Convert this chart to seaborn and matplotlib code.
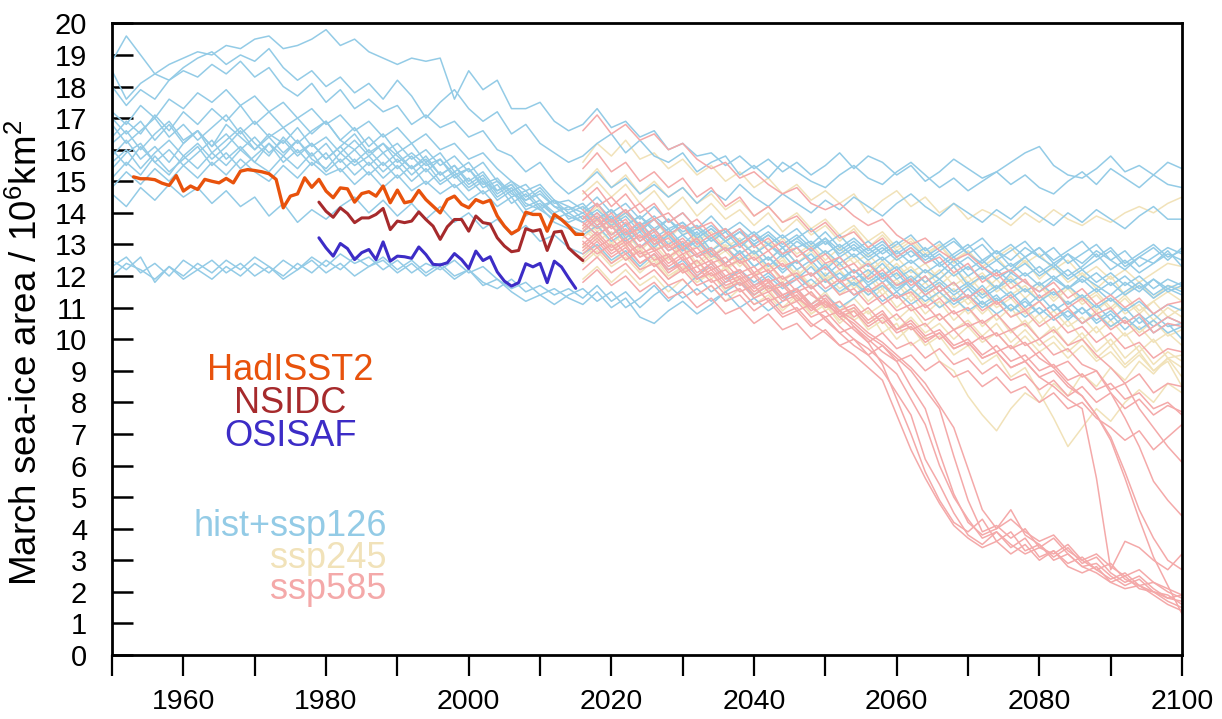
import matplotlib
matplotlib.use("Agg")
import matplotlib.pyplot as plt
import pandas as pd
import seaborn as sns

# ---------------------------------------------------------------- years
HIST_YEARS = list(range(1950, 2015, 2))
PROJ_YEARS = list(range(2016, 2101, 2))

# ---------------------------------------------------------- observations
hadisst2_years = list(range(1953, 2017))
hadisst2 = [15.14, 15.08, 15.08, 15.05, 14.94, 14.87, 15.18, 14.69, 14.85, 14.74,
            15.06, 15.00, 14.95, 15.09, 14.95, 15.32, 15.37, 15.34, 15.30, 15.24,
            15.06, 14.16, 14.53, 14.60, 15.11, 14.81, 15.06, 14.69, 14.48, 14.79,
            14.76, 14.34, 14.61, 14.67, 14.53, 14.85, 14.32, 14.72, 14.32, 14.37,
            14.71, 14.42, 14.21, 14.00, 14.42, 14.53, 14.27, 14.16, 14.42, 14.32,
            14.40, 13.90, 13.58, 13.34, 13.47, 14.02, 13.95, 13.95, 13.42, 13.95,
            13.79, 13.58, 13.32, 13.32]

nsidc_years = list(range(1979, 2017))
nsidc = [14.34, 14.05, 13.86, 14.16, 13.98, 13.69, 13.84, 13.84, 13.95, 14.14,
         13.47, 13.74, 13.69, 13.74, 14.03, 13.79, 13.58, 13.16, 13.56, 13.79,
         13.79, 13.42, 13.90, 13.69, 13.65, 13.21, 12.95, 12.77, 12.81, 13.50,
         13.42, 13.47, 12.81, 13.39, 13.42, 12.89, 12.68, 12.49]

osisaf_years = list(range(1979, 2016))
osisaf = [13.21, 12.89, 12.63, 13.03, 12.87, 12.52, 12.74, 12.84, 12.52, 13.08,
          12.47, 12.63, 12.61, 12.56, 12.92, 12.68, 12.37, 12.35, 12.42, 12.71,
          12.52, 12.24, 12.79, 12.49, 12.61, 12.13, 11.84, 11.68, 11.79, 12.39,
          12.29, 12.40, 11.79, 12.47, 12.29, 11.94, 11.61]

# ------------------------------------------- model members, historical part
hist = [
    [18.8, 19.6, 19.0, 18.4, 18.7, 18.9, 19.1, 19.0, 19.3, 19.2, 19.5, 19.6, 19.2, 19.3, 19.5, 19.8, 19.3,
     19.5, 19.1, 18.9, 18.7, 18.9, 18.8, 18.9, 17.6, 18.5, 17.9, 18.2, 17.3, 17.3, 17.5, 16.9, 16.6],
    [18.5, 17.6, 18.1, 18.4, 18.2, 18.6, 18.9, 19.1, 18.7, 19.0, 18.8, 19.2, 18.6, 18.2, 18.5, 18.0, 18.3,
     17.8, 18.1, 17.6, 18.2, 17.7, 17.0, 17.5, 17.9, 17.3, 16.9, 17.2, 16.5, 16.8, 16.2, 15.9, 15.6],
    [18.0, 17.4, 17.9, 17.6, 18.2, 18.5, 18.3, 18.7, 18.4, 18.8, 18.3, 18.6, 18.0, 17.7, 18.1, 17.5, 17.9,
     17.3, 17.6, 17.2, 17.4, 16.8, 17.1, 16.7, 16.9, 16.4, 16.6, 16.0, 15.8, 15.3, 15.6, 15.0, 14.6],
    [17.2, 16.8, 17.4, 17.0, 17.6, 17.3, 17.8, 17.5, 17.9, 17.4, 17.7, 17.2, 17.5, 17.0, 17.3, 16.8, 17.1,
     16.6, 16.9, 16.4, 16.7, 16.2, 16.5, 16.0, 16.2, 15.7, 15.9, 15.4, 15.0, 14.7, 14.9, 14.4, 14.2],
    [16.2, 16.6, 16.0, 16.5, 16.9, 16.3, 16.6, 16.1, 16.8, 16.4, 16.0, 16.5, 16.2, 16.7, 16.1, 16.4, 15.9,
     16.3, 15.8, 16.2, 15.6, 15.9, 15.5, 15.7, 15.2, 15.4, 14.9, 15.1, 14.6, 14.4, 14.7, 14.2, 14.1],
    [15.8, 16.3, 15.7, 16.1, 15.6, 16.2, 16.6, 15.9, 16.3, 16.7, 16.2, 15.8, 16.4, 15.9, 16.2, 15.7, 16.1,
     16.5, 15.9, 16.2, 15.8, 15.4, 15.8, 15.2, 15.5, 15.0, 15.3, 14.7, 14.9, 14.3, 14.1, 14.4, 13.8],
    [15.4, 15.9, 16.2, 15.6, 16.0, 15.5, 15.9, 16.3, 15.7, 16.1, 15.6, 16.2, 15.8, 16.3, 15.7, 15.4, 15.9,
     15.5, 15.8, 15.3, 15.7, 15.2, 15.6, 15.0, 15.3, 14.8, 15.1, 14.5, 14.8, 14.2, 14.4, 13.9, 13.7],
    [16.8, 16.2, 16.6, 17.0, 16.4, 16.8, 16.3, 16.7, 17.1, 16.5, 16.9, 16.4, 16.7, 16.2, 16.6, 16.9, 16.3,
     16.0, 16.4, 15.9, 16.2, 15.7, 16.0, 15.5, 15.8, 15.3, 15.6, 15.0, 14.7, 14.9, 14.4, 14.0, 14.2],
    [15.1, 15.6, 15.2, 15.8, 15.3, 15.7, 16.1, 15.5, 15.9, 15.4, 15.8, 16.2, 15.6, 16.0, 15.5, 15.9, 15.3,
     15.7, 15.2, 15.6, 15.1, 15.5, 14.9, 15.3, 14.8, 15.1, 14.6, 14.9, 14.3, 14.6, 14.1, 13.8, 14.0],
    [14.8, 15.3, 14.9, 15.4, 15.0, 15.5, 15.1, 15.6, 15.2, 15.7, 15.3, 15.0, 15.5, 15.1, 15.6, 15.2, 15.4,
     14.9, 15.3, 14.8, 15.2, 14.7, 15.0, 14.6, 14.9, 14.4, 14.7, 14.2, 14.5, 13.9, 14.2, 13.7, 13.5],
    [16.0, 15.5, 16.1, 15.6, 15.2, 15.8, 15.4, 15.9, 15.5, 16.0, 15.6, 15.3, 15.8, 15.4, 15.9, 15.3, 15.7,
     15.2, 15.6, 15.1, 15.5, 15.0, 15.4, 14.9, 15.2, 14.7, 15.0, 14.4, 14.7, 14.1, 14.3, 13.9, 13.6],
    [16.4, 16.9, 16.5, 17.1, 16.6, 17.2, 16.8, 17.3, 16.9, 17.4, 16.8, 17.2, 16.7, 17.0, 16.5, 16.9, 16.3,
     16.7, 16.1, 16.5, 15.9, 16.2, 15.6, 15.9, 15.3, 15.6, 15.0, 14.7, 15.0, 14.5, 14.8, 14.3, 14.4],
    [14.6, 14.2, 14.8, 14.4, 14.9, 14.5, 14.8, 14.3, 14.7, 14.2, 14.5, 13.9, 14.3, 13.7, 14.1, 13.8, 14.2,
     14.5, 14.0, 14.4, 13.9, 14.3, 13.8, 14.2, 13.7, 14.0, 13.5, 13.8, 13.3, 13.6, 13.1, 13.3, 12.9],
    [12.5, 12.2, 12.6, 11.8, 12.3, 12.0, 12.4, 12.1, 12.5, 12.2, 12.6, 12.3, 12.0, 12.4, 12.1, 12.5, 12.2,
     12.6, 12.3, 12.5, 12.1, 12.4, 12.0, 12.3, 11.9, 12.2, 11.8, 11.6, 11.9, 11.5, 11.7, 11.4, 11.6],
    [12.3, 12.6, 12.1, 12.4, 12.0, 12.5, 12.2, 11.9, 12.3, 12.0, 12.4, 12.1, 12.5, 12.2, 12.6, 12.3, 12.7,
     12.4, 12.6, 12.2, 12.5, 12.1, 12.4, 12.2, 12.5, 12.1, 12.3, 11.9, 11.6, 11.8, 11.4, 11.6, 11.3],
    [12.0, 12.4, 12.2, 11.9, 12.3, 11.9, 12.2, 12.5, 12.1, 12.4, 12.0, 12.3, 11.9, 12.2, 12.5, 12.1, 12.4,
     12.0, 12.3, 12.6, 12.2, 12.5, 12.1, 12.4, 12.0, 12.2, 11.7, 11.9, 11.5, 11.2, 11.4, 11.1, 11.4],
    [15.6, 16.0, 15.4, 15.9, 16.3, 15.8, 16.2, 15.7, 16.1, 16.6, 16.0, 16.4, 15.9, 16.3, 15.8, 16.2, 15.6,
     16.0, 15.5, 15.9, 15.4, 15.8, 15.3, 15.7, 15.1, 15.4, 14.8, 15.0, 14.5, 14.7, 14.2, 14.4, 14.0],
    [17.0, 16.5, 16.9, 16.3, 16.8, 16.2, 16.6, 16.1, 16.5, 16.0, 16.4, 15.9, 16.3, 15.8, 16.2, 15.7, 16.1,
     15.6, 16.0, 15.5, 15.9, 15.4, 15.7, 15.2, 15.5, 14.9, 15.2, 14.6, 14.9, 14.4, 14.6, 14.2, 13.9],
]

# ----------------------------------------------- SSP1-2.6 continuation
ssp126 = [
    [16.8, 17.3, 16.7, 16.9, 16.4, 16.6, 16.0, 16.2, 15.8, 15.9, 15.5, 15.8, 15.4, 15.7, 15.3, 15.6, 15.2,
     15.5, 15.9, 15.4, 15.8, 15.6, 15.2, 15.5, 15.0, 15.3, 15.7, 15.4, 15.1, 15.3, 15.6, 15.9, 16.1, 15.5,
     15.2, 15.1, 15.4, 15.8, 15.3, 15.5, 15.2, 15.6, 15.4],
    [15.8, 16.2, 16.5, 15.9, 16.3, 15.8, 15.6, 15.9, 15.3, 15.6, 15.8, 15.2, 15.5, 15.1, 15.6, 15.3, 15.0,
     14.8, 15.2, 15.5, 15.1, 14.9, 15.3, 15.6, 15.2, 14.8, 15.1, 14.7, 15.0, 15.3, 14.9, 15.2, 14.8, 14.6,
     15.0, 15.3, 14.9, 15.4, 15.1, 14.8, 15.2, 14.9, 14.8],
    [14.9, 15.3, 14.8, 15.1, 14.6, 14.9, 14.5, 14.8, 14.3, 14.7, 14.4, 14.9, 14.5, 14.2, 14.6, 14.3, 14.0,
     14.4, 14.1, 14.5, 14.2, 13.9, 14.3, 14.6, 14.2, 13.9, 14.3, 14.0, 13.7, 14.1, 13.8, 14.2, 13.9, 13.6,
     14.0, 13.7, 14.1, 13.8, 13.5, 13.9, 14.2, 13.8, 13.8],
    [14.0, 14.3, 13.8, 14.1, 13.6, 13.9, 13.5, 13.7, 13.3, 13.6, 13.2, 13.5, 13.1, 13.4, 13.0, 13.3, 12.9,
     13.2, 12.8, 13.1, 12.7, 13.0, 12.6, 12.9, 12.5, 12.8, 13.1, 12.7, 12.4, 12.8, 12.5, 12.9, 12.6, 12.3,
     12.7, 12.4, 12.8, 12.5, 12.2, 12.6, 12.9, 12.5, 12.9],
    [14.3, 13.8, 14.1, 13.6, 13.9, 13.4, 13.8, 13.3, 13.5, 13.1, 13.4, 12.9, 13.3, 13.0, 12.7, 13.1, 12.8,
     13.2, 12.6, 12.9, 12.5, 12.8, 13.1, 12.6, 12.9, 12.4, 12.7, 13.0, 12.5, 12.8, 12.3, 12.6, 12.9, 12.4,
     12.7, 12.2, 12.5, 12.8, 12.3, 12.6, 12.4, 12.7, 12.5],
    [14.0, 13.6, 13.9, 13.3, 13.7, 13.2, 13.5, 13.0, 13.4, 12.8, 13.1, 12.7, 13.0, 12.5, 12.9, 12.4, 12.7,
     12.2, 12.6, 12.1, 12.4, 12.0, 12.3, 11.8, 12.2, 11.9, 12.3, 11.7, 12.0, 11.6, 12.1, 11.8, 11.5, 11.9,
     11.6, 12.0, 11.7, 11.4, 11.8, 11.5, 11.9, 11.6, 11.8],
    [13.9, 13.5, 13.8, 13.2, 13.6, 13.0, 13.3, 12.8, 13.2, 12.7, 12.4, 12.8, 12.3, 12.6, 12.1, 12.5, 12.0,
     12.3, 11.8, 12.2, 11.7, 12.0, 11.5, 11.9, 11.4, 11.7, 11.2, 11.6, 11.1, 11.4, 10.9, 11.3, 10.8, 11.1,
     10.6, 11.0, 10.5, 10.8, 10.3, 10.7, 10.2, 10.5, 10.0],
    [13.8, 14.1, 13.7, 14.0, 13.6, 13.8, 13.4, 13.7, 13.2, 13.5, 13.1, 13.4, 13.0, 13.3, 12.9, 13.2, 13.5,
     13.0, 13.3, 12.8, 13.1, 12.7, 13.0, 13.3, 12.8, 13.1, 12.6, 12.9, 13.2, 12.7, 13.0, 12.6, 12.9, 12.5,
     12.8, 13.1, 12.6, 12.9, 12.4, 12.7, 13.0, 12.6, 12.8],
    [13.7, 13.3, 13.6, 13.1, 13.4, 12.9, 13.3, 12.8, 13.1, 12.6, 12.9, 12.5, 12.8, 12.3, 12.7, 12.2, 12.5,
     12.0, 12.4, 11.9, 12.2, 11.8, 12.1, 11.6, 12.0, 11.5, 11.8, 11.3, 11.7, 11.2, 11.5, 11.0, 11.4, 10.9,
     11.2, 10.8, 11.1, 10.6, 11.0, 10.5, 10.8, 10.4, 10.5],
    [13.3, 13.6, 13.1, 13.4, 12.9, 13.3, 12.8, 13.0, 12.6, 12.9, 12.4, 12.8, 12.3, 12.6, 12.2, 12.5, 12.0,
     12.4, 11.9, 12.2, 11.8, 12.1, 11.7, 12.0, 11.6, 11.9, 11.5, 11.8, 11.4, 11.7, 11.3, 11.6, 11.2, 11.5,
     11.1, 11.4, 11.0, 11.3, 10.9, 11.2, 10.8, 11.1, 10.9],
    [13.4, 13.8, 13.3, 13.6, 13.1, 13.5, 13.0, 13.3, 12.9, 13.2, 12.8, 13.1, 12.7, 13.0, 12.6, 12.9, 12.5,
     12.8, 12.4, 12.7, 12.3, 12.6, 12.2, 12.5, 12.1, 12.4, 12.0, 12.3, 11.9, 12.2, 11.8, 12.1, 11.7, 12.0,
     11.6, 11.9, 11.5, 11.8, 11.4, 11.7, 11.3, 11.6, 11.4],
    [14.1, 14.5, 14.0, 14.3, 13.8, 14.2, 13.7, 14.0, 13.5, 13.9, 13.4, 13.7, 13.3, 13.6, 13.2, 13.5, 13.0,
     13.4, 12.9, 13.2, 12.8, 13.1, 12.7, 13.0, 12.6, 12.9, 13.2, 12.7, 13.0, 12.5, 12.8, 13.1, 12.6, 12.9,
     12.4, 12.7, 13.0, 12.5, 12.8, 12.3, 12.6, 12.9, 12.7],
    [12.7, 13.0, 12.5, 12.8, 12.3, 12.7, 12.2, 12.5, 12.0, 12.4, 11.9, 12.2, 11.8, 12.1, 11.7, 12.0, 11.6,
     11.9, 11.5, 11.8, 11.4, 11.7, 11.3, 11.6, 11.2, 11.5, 11.1, 11.4, 11.0, 11.3, 10.9, 11.2, 10.8, 11.1,
     10.7, 11.0, 10.6, 10.9, 10.5, 10.8, 10.4, 10.7, 10.5],
    [11.3, 11.7, 11.2, 11.5, 11.0, 11.4, 11.7, 11.3, 11.6, 11.2, 11.5, 11.8, 11.4, 11.7, 11.3, 11.6, 11.9,
     11.5, 11.8, 11.4, 11.7, 12.0, 11.6, 11.9, 11.5, 11.8, 11.4, 11.7, 11.3, 11.6, 11.9, 11.5, 11.8, 11.4,
     11.7, 11.3, 11.6, 11.2, 11.5, 11.8, 11.4, 11.7, 11.5],
    [11.1, 11.5, 11.0, 11.3, 10.7, 10.5, 10.9, 11.2, 10.8, 11.1, 11.5, 11.0, 11.3, 10.9, 11.2, 11.6, 11.1,
     11.4, 11.0, 11.3, 11.7, 11.2, 11.5, 11.1, 11.4, 11.0, 11.3, 10.9, 11.2, 10.8, 11.1, 10.7, 11.0, 10.6,
     10.9, 10.5, 10.8, 10.4, 10.7, 10.3, 10.6, 10.2, 10.4],
    [11.6, 11.2, 11.5, 11.0, 11.3, 11.7, 11.2, 11.6, 12.0, 11.5, 11.8, 12.2, 11.7, 12.0, 11.6, 11.9, 12.3,
     11.8, 12.1, 11.7, 12.0, 12.4, 11.9, 12.2, 11.8, 12.1, 12.5, 12.0, 12.3, 11.9, 12.2, 12.6, 12.1, 12.4,
     12.0, 12.3, 12.7, 12.2, 12.5, 12.1, 12.4, 12.8, 12.3],
    [14.2, 13.8, 14.1, 13.6, 13.9, 13.5, 13.8, 13.4, 13.6, 13.2, 13.5, 13.1, 13.4, 13.0, 13.3, 12.9, 13.1,
     12.7, 13.0, 12.6, 12.9, 12.5, 12.8, 12.4, 12.7, 12.3, 12.6, 12.2, 12.5, 12.1, 12.4, 12.0, 12.3, 11.9,
     12.2, 11.8, 12.1, 11.7, 12.0, 11.6, 11.9, 11.5, 11.7],
    [13.7, 14.0, 13.6, 13.9, 13.4, 13.8, 13.3, 13.6, 13.2, 13.5, 13.1, 13.4, 13.0, 13.3, 12.9, 13.2, 12.8,
     13.1, 12.7, 13.0, 12.6, 12.9, 12.5, 12.8, 12.4, 12.7, 12.3, 12.6, 12.2, 12.5, 12.1, 12.4, 12.0, 12.3,
     11.9, 12.2, 11.8, 12.1, 11.7, 12.0, 11.6, 11.9, 11.7],
]

# ------------------------------------------------------------- SSP2-4.5
ssp245 = [
    [15.6, 16.2, 15.8, 16.3, 15.7, 15.9, 15.4, 15.7, 15.2, 15.5, 15.0, 15.3, 14.8, 15.1, 14.6, 14.9, 14.4,
     14.7, 14.3, 14.6, 14.0, 14.4, 14.7, 14.2, 14.5, 14.0, 14.3, 13.8, 14.1, 13.9, 13.6, 14.0, 13.7, 14.1,
     13.8, 13.6, 13.9, 13.7, 14.0, 14.2, 14.0, 14.3, 14.5],
    [14.9, 15.4, 14.8, 15.2, 14.6, 15.0, 14.5, 14.8, 14.3, 14.6, 14.1, 14.4, 13.9, 14.2, 13.7, 14.0, 13.5,
     13.8, 13.3, 13.6, 13.1, 13.4, 12.9, 13.2, 12.7, 13.0, 12.5, 12.8, 12.3, 12.6, 12.9, 12.4, 12.7, 12.2,
     12.5, 12.0, 12.3, 11.9, 12.2, 11.8, 12.1, 12.4, 12.3],
    [13.8, 14.2, 13.6, 14.0, 13.5, 13.8, 13.2, 13.6, 13.1, 13.4, 12.9, 13.2, 12.7, 13.1, 12.6, 12.9, 12.4,
     12.8, 12.3, 12.6, 12.1, 12.5, 12.0, 12.3, 11.8, 12.2, 11.7, 12.0, 11.5, 11.9, 11.4, 11.7, 11.2, 11.6,
     11.1, 11.4, 10.9, 11.3, 10.8, 11.1, 10.6, 11.0, 10.7],
    [13.5, 13.1, 13.4, 12.9, 13.3, 12.8, 13.1, 12.6, 13.0, 12.5, 12.8, 12.3, 12.7, 12.2, 12.5, 12.0, 12.4,
     11.9, 12.2, 11.7, 12.1, 11.6, 11.9, 11.4, 11.8, 11.3, 11.6, 11.1, 11.5, 11.0, 11.3, 10.8, 11.2, 10.7,
     11.0, 10.5, 10.9, 10.4, 10.7, 10.2, 10.6, 10.1, 10.3],
    [13.2, 13.6, 13.0, 13.4, 12.8, 13.2, 12.6, 13.0, 12.4, 12.8, 12.2, 12.6, 12.0, 12.4, 11.8, 12.2, 11.6,
     12.0, 11.4, 11.8, 11.2, 11.6, 11.0, 11.4, 10.8, 11.2, 10.6, 11.0, 10.4, 10.8, 10.2, 10.6, 10.0, 10.4,
     9.8, 10.2, 9.6, 10.0, 9.4, 9.8, 9.2, 9.6, 9.3],
    [13.0, 12.6, 13.1, 12.5, 12.9, 12.3, 12.7, 12.1, 12.5, 11.9, 12.3, 11.7, 12.0, 11.5, 11.8, 11.2, 11.5,
     10.9, 11.2, 10.6, 10.9, 10.2, 10.5, 9.8, 10.1, 9.3, 9.0, 8.2, 7.6, 7.1, 7.8, 8.3, 8.0, 8.6,
     8.2, 8.9, 8.5, 9.1, 8.7, 9.3, 8.9, 9.4, 9.1],
    [12.6, 13.0, 12.4, 12.8, 12.2, 12.6, 12.0, 12.3, 11.8, 12.1, 11.5, 11.9, 11.3, 11.6, 11.0, 11.4, 10.8,
     11.1, 10.5, 10.9, 10.3, 10.6, 10.0, 10.4, 9.8, 10.1, 9.5, 9.8, 9.2, 9.5, 8.8, 9.1, 8.3, 7.5,
     6.6, 7.2, 7.8, 7.4, 8.0, 8.4, 8.0, 8.6, 8.3],
    [14.2, 13.7, 14.1, 13.6, 13.9, 13.4, 13.8, 13.3, 13.6, 13.1, 13.5, 13.0, 13.3, 12.8, 13.2, 12.7, 13.0,
     12.5, 12.9, 12.4, 12.7, 12.2, 12.6, 12.1, 12.4, 11.9, 12.3, 11.8, 12.1, 11.6, 12.0, 11.5, 11.8, 11.3,
     11.7, 11.2, 11.5, 11.0, 11.4, 10.9, 11.2, 10.7, 11.0],
    [12.9, 13.3, 12.8, 13.2, 12.6, 13.0, 12.5, 12.9, 12.3, 12.7, 12.2, 12.5, 12.0, 12.4, 11.9, 12.2, 11.7,
     12.1, 11.6, 11.9, 11.4, 11.8, 11.3, 11.6, 11.1, 11.5, 11.0, 11.3, 10.8, 11.2, 10.7, 11.0, 10.5, 10.9,
     10.4, 10.7, 10.2, 10.6, 10.1, 10.4, 9.9, 10.2, 9.8],
    [13.6, 13.2, 13.7, 13.1, 13.5, 13.0, 13.4, 12.9, 13.3, 12.8, 13.2, 12.7, 13.0, 12.5, 12.9, 12.4, 12.8,
     12.3, 12.6, 12.1, 12.5, 12.0, 12.4, 11.9, 12.2, 11.7, 12.1, 11.6, 12.0, 11.5, 11.8, 11.3, 11.7, 11.2,
     11.6, 11.1, 11.4, 10.9, 11.3, 10.8, 11.2, 11.5, 11.2],
    [12.4, 12.8, 12.3, 12.6, 12.1, 12.5, 11.9, 12.3, 11.8, 12.1, 11.6, 12.0, 11.4, 11.8, 11.3, 11.6, 11.1,
     11.5, 10.9, 11.3, 10.8, 11.1, 10.6, 11.0, 10.4, 10.8, 10.3, 10.6, 10.1, 10.5, 9.9, 10.3, 9.8, 10.1,
     9.6, 10.0, 9.4, 9.8, 9.2, 9.6, 9.0, 9.4, 8.8],
    [14.6, 15.0, 14.5, 14.9, 14.3, 14.7, 14.1, 14.5, 13.9, 14.3, 13.8, 14.1, 13.6, 14.0, 13.4, 13.8, 13.3,
     13.6, 13.1, 13.5, 12.9, 13.3, 12.8, 13.1, 12.6, 13.0, 12.4, 12.8, 12.3, 12.6, 12.1, 12.5, 11.9, 12.3,
     11.8, 12.1, 11.6, 12.0, 11.4, 11.8, 11.3, 11.7, 11.6],
    [13.9, 13.4, 13.8, 13.2, 13.6, 13.0, 13.4, 12.8, 13.2, 12.6, 13.0, 12.4, 12.8, 12.2, 12.6, 12.0, 12.4,
     11.8, 12.2, 11.6, 12.0, 11.4, 11.8, 11.2, 11.6, 11.0, 11.4, 10.8, 11.2, 10.6, 11.0, 10.4, 10.8, 10.2,
     10.6, 10.0, 10.4, 9.8, 10.2, 9.6, 10.0, 9.4, 9.5],
    [11.9, 12.3, 11.8, 12.2, 11.7, 12.0, 11.5, 11.9, 11.4, 11.7, 11.2, 11.6, 11.1, 11.4, 10.9, 11.3, 10.8,
     11.1, 10.6, 11.0, 10.5, 10.8, 10.3, 10.7, 10.2, 10.5, 10.0, 10.4, 9.9, 10.2, 9.7, 10.1, 9.6, 9.9,
     9.4, 9.8, 9.3, 9.6, 9.1, 9.5, 9.0, 9.3, 8.5],
]

# ------------------------------------------------------------- SSP5-8.5
ssp585 = [
    [16.6, 17.1, 16.5, 16.8, 16.3, 16.5, 16.0, 16.2, 15.7, 15.4, 15.6, 15.1, 15.3, 14.9, 14.6, 14.8, 14.3,
     14.1, 14.3, 13.9, 13.6, 13.8, 13.3, 13.0, 13.2, 12.8, 12.5, 12.7, 12.3, 12.0, 12.2, 11.8, 11.5, 11.8,
     11.3, 11.6, 11.1, 11.4, 11.0, 11.3, 10.8, 11.1, 11.2],
    [15.4, 15.9, 15.3, 15.6, 15.0, 15.3, 14.8, 15.1, 14.5, 14.8, 14.2, 14.5, 13.9, 14.2, 13.7, 13.9, 13.4,
     13.7, 13.2, 13.4, 12.9, 13.2, 12.6, 12.9, 12.4, 12.6, 12.1, 12.4, 11.8, 12.1, 11.6, 11.9, 11.3, 11.6,
     11.0, 11.3, 10.8, 11.0, 10.5, 10.8, 10.2, 10.5, 10.4],
    [13.4, 13.8, 13.2, 13.5, 12.9, 13.2, 12.6, 12.9, 12.3, 12.5, 12.0, 12.2, 11.7, 11.9, 11.4, 11.6, 11.0,
     11.2, 10.7, 10.3, 9.9, 9.2, 8.1, 7.0, 5.8, 4.9, 4.2, 3.9, 4.3, 3.6, 3.9, 3.3, 3.5, 3.0,
     3.2, 2.8, 2.6, 2.3, 2.5, 2.1, 2.0, 1.8, 1.7],
    [13.1, 12.7, 13.0, 12.5, 12.8, 12.3, 12.6, 12.1, 12.3, 11.8, 12.0, 11.5, 11.7, 11.2, 11.4, 10.9, 11.1,
     10.6, 10.2, 9.8, 9.5, 9.0, 8.3, 7.6, 6.2, 5.4, 4.5, 3.8, 3.5, 3.9, 3.4, 3.7, 3.1, 3.3,
     2.9, 3.1, 2.7, 2.4, 2.6, 2.2, 2.0, 1.9, 1.6],
    [13.7, 13.3, 13.6, 13.0, 13.3, 12.8, 13.0, 12.5, 12.7, 12.2, 12.4, 11.9, 12.1, 11.6, 11.8, 11.3, 11.0,
     10.7, 10.9, 10.4, 10.0, 9.6, 9.3, 8.5, 7.8, 6.4, 5.1, 4.2, 3.8, 4.0, 4.6, 3.8, 3.5, 3.1,
     3.4, 2.9, 3.1, 2.6, 2.3, 2.5, 2.1, 1.8, 1.9],
    [12.8, 13.2, 12.7, 13.0, 12.4, 12.7, 12.1, 12.4, 11.9, 12.1, 11.6, 11.8, 11.3, 11.5, 11.0, 11.2, 10.7,
     10.9, 10.4, 10.0, 9.7, 9.3, 8.9, 8.1, 7.3, 6.0, 5.0, 4.3, 3.7, 3.9, 3.5, 3.2, 3.4, 3.7,
     3.2, 2.8, 2.9, 2.5, 2.2, 2.4, 2.0, 1.7, 1.5],
    [13.5, 13.9, 13.3, 13.7, 13.1, 13.4, 12.8, 13.1, 12.6, 12.8, 12.3, 12.5, 12.0, 12.2, 11.7, 11.9, 11.4,
     11.1, 10.8, 10.5, 10.1, 9.8, 9.4, 9.0, 8.4, 7.8, 6.3, 4.9, 3.9, 4.1, 3.7, 4.0, 3.4, 3.2,
     3.5, 3.0, 2.7, 2.9, 2.4, 2.2, 2.3, 2.0, 1.8],
    [12.5, 12.9, 12.4, 12.7, 12.2, 12.4, 11.9, 12.2, 11.7, 11.9, 11.4, 11.6, 11.1, 11.3, 10.8, 11.0, 10.5,
     10.2, 9.8, 9.5, 9.1, 8.7, 7.6, 6.5, 5.6, 4.8, 4.1, 3.7, 3.4, 3.6, 3.2, 3.5, 3.0, 3.3,
     2.8, 2.6, 2.8, 2.3, 2.1, 2.2, 1.9, 1.6, 1.4],
    [13.9, 13.5, 13.8, 13.3, 13.5, 13.0, 13.2, 12.7, 12.9, 12.4, 12.6, 12.1, 12.3, 11.8, 12.0, 11.5, 11.7,
     11.2, 10.9, 10.6, 10.2, 9.9, 9.5, 9.1, 8.6, 7.9, 7.2, 5.9, 4.6, 4.0, 4.3, 3.9, 3.6, 3.8,
     3.3, 3.0, 3.2, 2.8, 2.5, 2.7, 2.3, 2.1, 1.9],
    [13.6, 14.0, 13.5, 13.8, 13.2, 13.5, 12.9, 13.2, 12.7, 12.9, 12.4, 12.7, 12.1, 12.4, 11.9, 12.1, 11.6,
     11.9, 11.4, 11.6, 11.1, 11.4, 10.9, 11.1, 10.6, 10.8, 10.3, 10.5, 10.0, 10.2, 9.7, 9.9, 9.4, 9.1,
     8.6, 8.2, 7.6, 6.8, 5.6, 4.3, 3.1, 2.2, 1.3],
    [12.9, 13.3, 12.8, 13.1, 12.6, 12.8, 12.3, 12.6, 12.0, 12.3, 11.8, 12.0, 11.5, 11.8, 11.3, 11.5, 11.0,
     11.3, 10.8, 11.0, 10.5, 10.8, 10.3, 10.5, 10.0, 10.2, 9.7, 9.9, 9.4, 9.6, 9.1, 9.3, 8.8, 8.5,
     8.1, 7.8, 5.6, 2.7, 3.6, 3.4, 3.0, 2.7, 3.2],
    [14.1, 13.6, 14.0, 13.4, 13.7, 13.1, 13.4, 12.9, 13.2, 12.6, 12.9, 12.4, 12.6, 12.1, 12.4, 11.9, 12.1,
     11.6, 11.9, 11.4, 11.6, 11.1, 11.4, 10.9, 11.1, 10.6, 10.9, 10.4, 10.6, 10.1, 10.3, 9.8, 10.0, 9.5,
     9.7, 9.2, 9.0, 8.3, 7.5, 6.6, 5.5, 4.9, 4.4],
    [13.3, 12.9, 13.2, 12.7, 13.0, 12.5, 12.7, 12.2, 12.5, 12.0, 12.2, 11.7, 12.0, 11.5, 11.7, 11.2, 11.5,
     11.0, 11.2, 10.7, 11.0, 10.5, 10.8, 10.3, 10.5, 10.0, 10.3, 9.8, 10.1, 9.6, 9.8, 9.3, 9.6, 9.1,
     9.3, 8.8, 9.0, 8.4, 8.6, 7.8, 7.2, 6.6, 6.1],
    [12.7, 13.1, 12.6, 12.9, 12.4, 12.7, 12.2, 12.4, 11.9, 12.2, 11.7, 11.9, 11.4, 11.7, 11.2, 11.4, 10.9,
     11.2, 10.7, 10.9, 10.4, 10.7, 10.2, 10.4, 9.9, 10.2, 9.7, 9.9, 9.4, 9.6, 9.1, 9.3, 8.8, 9.0,
     8.5, 8.2, 7.6, 6.9, 5.8, 4.6, 3.7, 3.0, 2.7],
    [14.4, 14.8, 14.2, 14.6, 14.0, 14.3, 13.7, 14.0, 13.5, 13.7, 13.2, 13.5, 12.9, 13.2, 12.7, 12.9, 12.4,
     12.7, 12.2, 12.4, 11.9, 12.2, 11.7, 11.9, 11.4, 11.7, 11.2, 11.4, 10.9, 11.2, 10.7, 10.9, 10.4, 10.7,
     10.2, 10.4, 9.9, 10.2, 9.7, 9.9, 9.4, 9.7, 9.6],
    [13.0, 13.4, 12.9, 13.2, 12.7, 12.9, 12.4, 12.7, 12.1, 12.4, 11.9, 12.1, 11.6, 11.9, 11.4, 11.6, 11.1,
     11.4, 10.9, 11.1, 10.6, 10.9, 10.3, 10.6, 10.1, 10.3, 9.8, 10.0, 9.5, 9.8, 9.3, 9.5, 9.0, 9.2,
     8.7, 8.9, 8.4, 8.6, 8.1, 8.3, 7.8, 8.0, 7.6],
    [14.7, 14.2, 14.5, 14.0, 14.3, 13.8, 14.0, 13.5, 13.8, 13.3, 13.5, 13.0, 13.3, 12.8, 13.1, 12.6, 12.9,
     12.4, 12.6, 12.1, 12.4, 11.9, 12.2, 11.7, 12.0, 11.5, 11.8, 11.3, 11.6, 11.1, 11.4, 10.9, 11.2, 10.7,
     11.0, 10.5, 10.8, 10.3, 10.6, 10.1, 10.4, 10.7, 10.5],
    [12.2, 12.6, 12.1, 12.4, 11.9, 12.2, 11.7, 11.9, 11.4, 11.7, 11.2, 11.4, 10.9, 11.2, 10.7, 10.9, 10.4,
     10.7, 10.2, 10.4, 9.9, 10.2, 9.7, 9.9, 9.4, 9.7, 9.2, 9.4, 8.9, 9.2, 8.7, 8.9, 8.4, 8.7,
     8.2, 8.5, 8.0, 8.3, 7.8, 8.1, 7.6, 7.9, 7.7],
    [13.8, 14.3, 13.7, 14.1, 13.5, 13.8, 13.3, 13.6, 13.0, 13.3, 12.8, 13.0, 12.5, 12.8, 12.3, 12.5, 12.0,
     12.3, 11.8, 12.0, 11.5, 11.8, 11.3, 11.5, 11.0, 11.3, 10.8, 11.0, 10.5, 10.8, 10.3, 10.5, 10.0, 10.3,
     9.8, 10.0, 9.5, 9.1, 8.6, 8.9, 8.3, 8.6, 8.5],
    [11.8, 12.2, 11.7, 12.0, 11.5, 11.8, 11.3, 11.5, 11.0, 11.3, 10.8, 11.0, 10.5, 10.8, 10.3, 10.5, 10.0,
     10.3, 9.8, 10.0, 9.5, 9.8, 9.3, 9.5, 9.0, 9.3, 8.8, 9.0, 8.5, 8.8, 8.3, 8.5, 8.0, 8.3,
     7.8, 8.0, 7.5, 7.2, 6.8, 7.1, 6.5, 6.9, 7.3],
]

# ----------------------------------------------------------------- colours
C_126 = "#93CBE6"
C_245 = "#F1E2B9"
C_585 = "#F4A9A9"
C_HAD = "#E8520C"
C_NSIDC = "#A62A2C"
C_OSI = "#3C2CC6"


def members_frame(series_list, years, label):
    parts = []
    for i, vals in enumerate(series_list):
        parts.append(pd.DataFrame({"year": years, "area": vals,
                                   "scenario": label, "member": f"{label}-{i:02d}"}))
    return pd.concat(parts, ignore_index=True)


df_126 = members_frame([h + f for h, f in zip(hist, ssp126)],
                       HIST_YEARS + PROJ_YEARS, "hist+ssp126")
df_245 = members_frame(ssp245, PROJ_YEARS, "ssp245")
df_585 = members_frame(ssp585, PROJ_YEARS, "ssp585")

# ------------------------------------------------------------------- style
sns.set_style("ticks")
plt.rcParams["font.family"] = ["Liberation Sans", "DejaVu Sans"]
plt.rcParams["mathtext.fontset"] = "custom"
plt.rcParams["mathtext.rm"] = "Liberation Sans"
plt.rcParams["mathtext.it"] = "Liberation Sans:italic"
plt.rcParams["mathtext.bf"] = "Liberation Sans:bold"
plt.rcParams["text.color"] = "black"
plt.rcParams["axes.labelcolor"] = "black"

fig, ax = plt.subplots(figsize=(12.22, 7.19), dpi=100)
fig.subplots_adjust(left=0.0917, right=0.9673, bottom=0.089, top=0.9675)

# model ensembles
for frame, colour in [(df_245, C_245), (df_126, C_126), (df_585, C_585)]:
    sns.lineplot(data=frame, x="year", y="area", units="member", estimator=None,
                 color=colour, linewidth=1.1, legend=False, ax=ax)

# observations
sns.lineplot(x=hadisst2_years, y=hadisst2, color=C_HAD, linewidth=2.4, ax=ax)
sns.lineplot(x=nsidc_years, y=nsidc, color=C_NSIDC, linewidth=2.2, ax=ax)
sns.lineplot(x=osisaf_years, y=osisaf, color=C_OSI, linewidth=2.2, ax=ax)

# in-plot labels
lab_kw = dict(fontsize=26, va="center")
ax.text(1975.0, 9.0, "HadISST2", color=C_HAD, ha="center", **lab_kw)
ax.text(1975.0, 7.97, "NSIDC", color=C_NSIDC, ha="center", **lab_kw)
ax.text(1975.0, 6.92, "OSISAF", color=C_OSI, ha="center", **lab_kw)
ax.text(1988.5, 4.08, "hist+ssp126", color=C_126, ha="right", **lab_kw)
ax.text(1988.5, 3.07, "ssp245", color=C_245, ha="right", **lab_kw)
ax.text(1988.5, 2.06, "ssp585", color=C_585, ha="right", **lab_kw)

# axes
ax.set_xlim(1950, 2100)
ax.set_ylim(0, 20)
xt = list(range(1950, 2101, 10))
ax.set_xticks(xt)
ax.set_xticklabels([str(y) if y % 20 == 0 else "" for y in xt])
ax.set_yticks(range(0, 21))
ax.set_xlabel("")
ax.set_ylabel("March sea-ice area / 10$^6$km$^2$", fontsize=26.5)
ax.yaxis.set_label_coords(-0.063, 0.478)

ax.tick_params(axis="x", direction="out", length=15, width=1.6, labelsize=20.5,
               pad=9.5, color="black", labelcolor="black")
ax.tick_params(axis="y", direction="in", length=15, width=1.8, labelsize=21,
               pad=18, color="black", labelcolor="black", right=False)
for side in ["left", "right", "top", "bottom"]:
    ax.spines[side].set_visible(True)
    ax.spines[side].set_color("black")
    ax.spines[side].set_linewidth(2.0)

fig.savefig("out.png", dpi=100, facecolor="white")
